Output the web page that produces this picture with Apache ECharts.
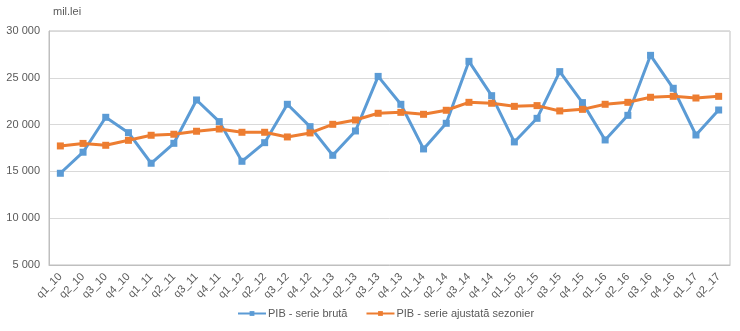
<!DOCTYPE html>
<html>
<head>
<meta charset="utf-8">
<script src="https://cdn.jsdelivr.net/npm/echarts@6/dist/echarts.min.js"></script>
<style>
  html, body { margin: 0; padding: 0; background: #fff; }
  #chart { width: 740px; height: 331px; }
</style>
</head>
<body>
<div id="chart"></div>
<script>
// Quarterly GDP (mil. lei), raw and seasonally adjusted
var quarters = [
  'q1_10','q2_10','q3_10','q4_10',
  'q1_11','q2_11','q3_11','q4_11',
  'q1_12','q2_12','q3_12','q4_12',
  'q1_13','q2_13','q3_13','q4_13',
  'q1_14','q2_14','q3_14','q4_14',
  'q1_15','q2_15','q3_15','q4_15',
  'q1_16','q2_16','q3_16','q4_16',
  'q1_17','q2_17'
];
var pibBrut = [
  14800, 17050, 20780, 19140,
  15870, 18000, 22630, 20320,
  16080, 18070, 22170, 19780,
  16720, 19320, 25150, 22170,
  17400, 20140, 26760, 23090,
  18150, 20670, 25660, 22350,
  18360, 20990, 27400, 23880,
  18890, 21560
];
var pibAjustat = [
  17720, 17990, 17790, 18320,
  18860, 18970, 19290, 19530,
  19180, 19180, 18680, 19110,
  20030, 20490, 21210, 21310,
  21100, 21530, 22380, 22280,
  21950, 22030, 21460, 21630,
  22170, 22380, 22920, 23020,
  22840, 23020
];
var yTicks = { min: 5000, max: 30000, step: 5000 };
var seriesNames = ['PIB - serie brută', 'PIB - serie ajustată sezonier'];

var fontFamily = '"Liberation Sans", Arial, sans-serif';
var textColor = '#595959';

function fmtThousands(v) {
  return String(v).replace(/\B(?=(\d{3})+(?!\d))/g, ' ');
}

var chart = echarts.init(document.getElementById('chart'), null, { renderer: 'canvas' });
chart.setOption({
  animation: false,
  textStyle: { fontFamily: fontFamily },
  title: {
    text: 'mil.lei',
    left: 48, top: 1,
    textStyle: { fontSize: 11, fontWeight: 'normal', color: textColor, fontFamily: fontFamily }
  },
  grid: {
    left: 49, right: 10, top: 31, bottom: 66,
    show: true, borderColor: '#bfbfbf', borderWidth: 1, backgroundColor: 'transparent'
  },
  legend: {
    top: 303,
    left: 232,
    itemWidth: 28,
    itemHeight: 6,
    itemGap: 18,
    textStyle: { fontSize: 11, color: textColor, fontFamily: fontFamily, padding: [0, 0, 0, -3] },
    data: seriesNames
  },
  xAxis: {
    type: 'category',
    data: quarters,
    boundaryGap: true,
    axisLine: { show: true, lineStyle: { color: '#bfbfbf' } },
    axisTick: { show: false },
    axisLabel: {
      interval: 0, rotate: 45, fontSize: 11, color: textColor, margin: 10,
      fontFamily: fontFamily
    },
    splitLine: { show: false }
  },
  yAxis: {
    type: 'value',
    min: yTicks.min, max: yTicks.max, interval: yTicks.step,
    axisLine: { show: true, lineStyle: { color: '#bfbfbf' } },
    axisTick: { show: false },
    axisLabel: {
      fontSize: 11, color: textColor, margin: 9, fontFamily: fontFamily,
      formatter: fmtThousands
    },
    splitLine: { show: true, lineStyle: { color: '#d9d9d9', width: 1 } }
  },
  series: [
    {
      name: seriesNames[0],
      type: 'line',
      data: pibBrut,
      symbol: 'rect',
      symbolSize: 7,
      lineStyle: { color: '#5b9bd5', width: 3 },
      itemStyle: { color: '#5b9bd5' },
      z: 2
    },
    {
      name: seriesNames[1],
      type: 'line',
      data: pibAjustat,
      symbol: 'rect',
      symbolSize: 7,
      lineStyle: { color: '#ed7d31', width: 3 },
      itemStyle: { color: '#ed7d31' },
      z: 3
    }
  ]
});
</script>
</body>
</html>
